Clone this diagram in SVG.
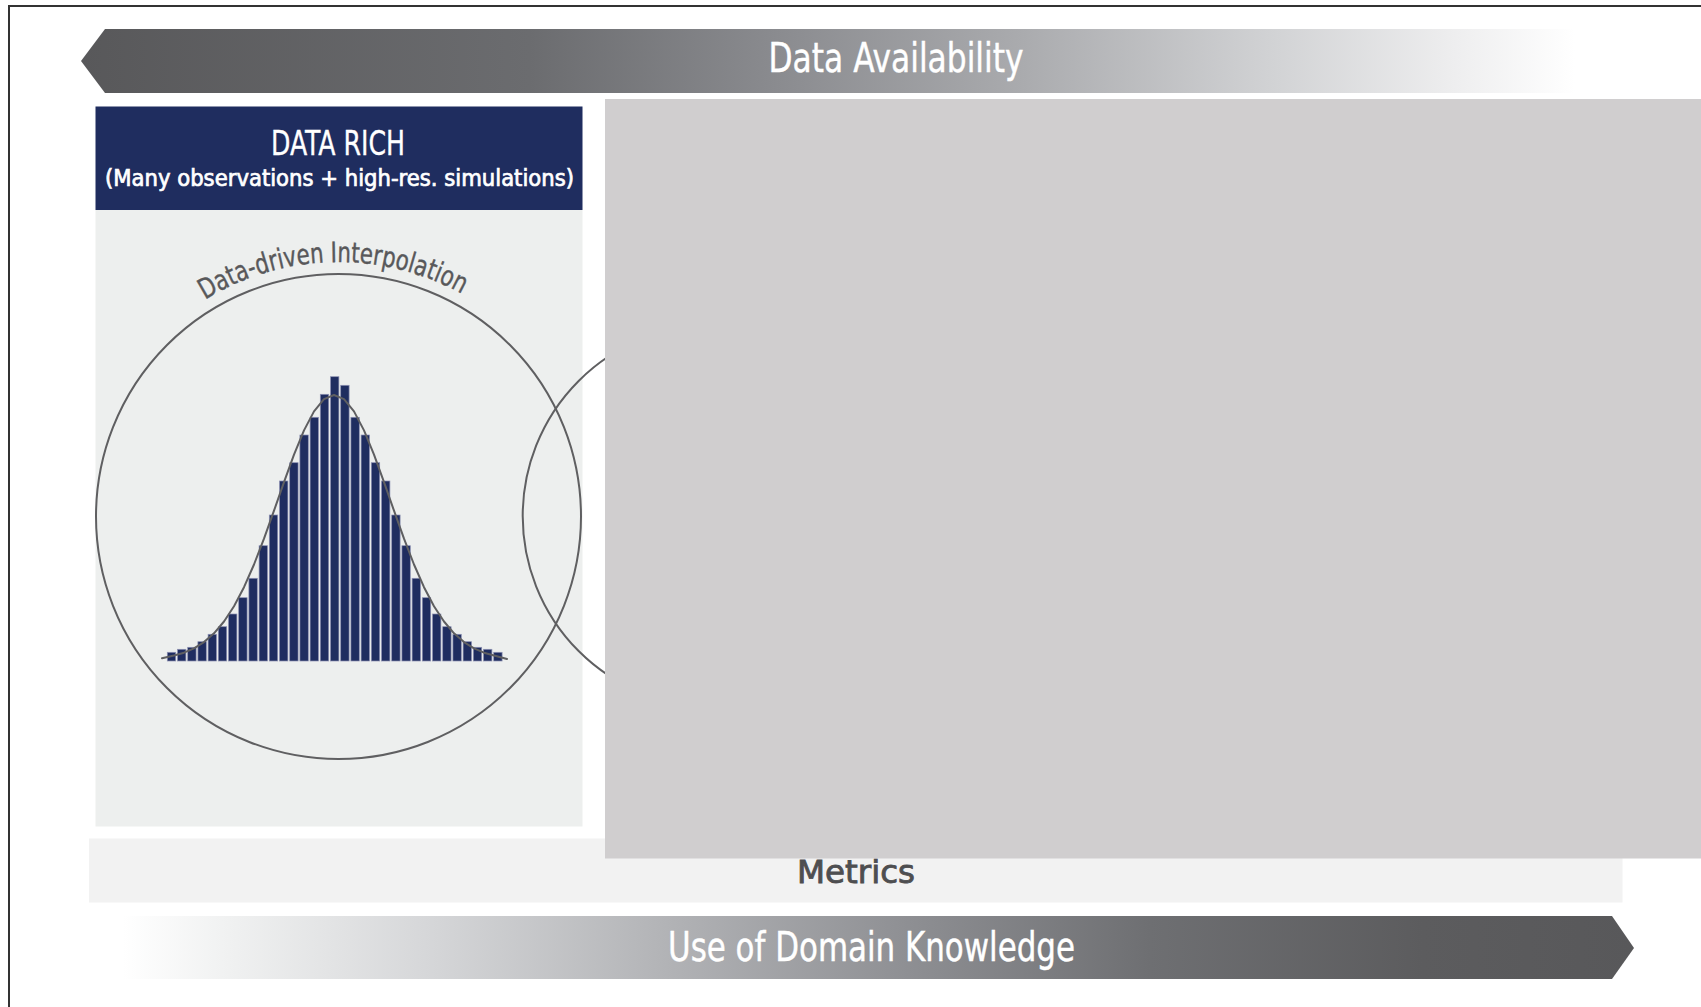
<svg xmlns="http://www.w3.org/2000/svg" width="1701" height="1007" viewBox="0 0 1701 1007">
  <defs>
    <linearGradient id="gTop" gradientUnits="userSpaceOnUse" x1="81" y1="0" x2="1575" y2="0">
      <stop offset="0" stop-color="#58585a"/>
      <stop offset="0.3" stop-color="#6b6c6f"/>
      <stop offset="0.46" stop-color="#898a8e"/>
      <stop offset="0.63" stop-color="#aaabae"/>
      <stop offset="0.8" stop-color="#d2d3d5"/>
      <stop offset="0.92" stop-color="#eeeeef"/>
      <stop offset="1" stop-color="#ffffff"/>
    </linearGradient>
    <linearGradient id="gBot" gradientUnits="userSpaceOnUse" x1="1634" y1="0" x2="123" y2="0">
      <stop offset="0" stop-color="#58585a"/>
      <stop offset="0.14" stop-color="#5c5c5e"/>
      <stop offset="0.32" stop-color="#6e6f72"/>
      <stop offset="0.48" stop-color="#8e8f93"/>
      <stop offset="0.64" stop-color="#b2b3b6"/>
      <stop offset="0.8" stop-color="#d6d7d9"/>
      <stop offset="0.93" stop-color="#f0f1f1"/>
      <stop offset="1" stop-color="#ffffff"/>
    </linearGradient>
    <path id="arcText" d="M117.7,389.5 A255,255 0 0,1 559.3,389.5"/>
    <style>
      .cond { font-family: "DejaVu Sans Condensed", "DejaVu Sans", "Liberation Sans", sans-serif; }
      .band { fill: #ffffff; font-size: 40px; stroke: #ffffff; stroke-width: 0.4; }
      .circ { fill: none; stroke: #5f5f61; stroke-width: 2; }
      .bar { fill: #1f2d60; stroke: #8d91b2; stroke-width: 0.7; }
    </style>
  </defs>

  <rect x="0" y="0" width="1701" height="1007" fill="#ffffff"/>
  <rect id="frame" x="9" y="6" width="1800" height="1100" fill="none" stroke="#333333" stroke-width="2"/>

  <g id="data-availability">
    <polygon points="105,29 1701,29 1701,93 105,93 81,61" fill="url(#gTop)"/>
    <text class="cond band" x="896" y="72" text-anchor="middle" textLength="255" lengthAdjust="spacingAndGlyphs">Data Availability</text>
  </g>

  <g id="data-rich">
    <rect x="95.5" y="210" width="487" height="616.5" fill="#edefee"/>
    <rect x="95.5" y="106.5" width="487" height="103.5" fill="#1f2d5f"/>
    <text class="cond" x="338" y="154.5" font-size="33" fill="#ffffff" stroke="#ffffff" stroke-width="0.3" text-anchor="middle" textLength="134" lengthAdjust="spacingAndGlyphs">DATA RICH</text>
    <text class="cond" x="339.5" y="186" font-size="23" fill="#ffffff" stroke="#ffffff" stroke-width="0.7" text-anchor="middle" textLength="469" lengthAdjust="spacingAndGlyphs">(Many observations + high-res. simulations)</text>
  </g>

  <g id="circles">
    <circle class="circ" cx="338.5" cy="516.5" r="242.5"/>
    <circle class="circ" cx="713.7" cy="516" r="191"/>
  </g>

  <g id="histogram">
    <rect class="bar" x="167.3" y="652.3" width="8.4" height="8.7"/>
    <rect class="bar" x="177.5" y="649.3" width="8.4" height="11.7"/>
    <rect class="bar" x="187.7" y="647.3" width="8.4" height="13.7"/>
    <rect class="bar" x="197.9" y="641.7" width="8.4" height="19.3"/>
    <rect class="bar" x="208.1" y="634.3" width="8.4" height="26.7"/>
    <rect class="bar" x="218.3" y="626.7" width="8.4" height="34.3"/>
    <rect class="bar" x="228.5" y="614" width="8.4" height="47"/>
    <rect class="bar" x="238.7" y="597.7" width="8.4" height="63.3"/>
    <rect class="bar" x="248.9" y="578.3" width="8.4" height="82.7"/>
    <rect class="bar" x="259.1" y="545.7" width="8.4" height="115.3"/>
    <rect class="bar" x="269.3" y="515" width="8.4" height="146"/>
    <rect class="bar" x="279.5" y="481" width="8.4" height="180"/>
    <rect class="bar" x="289.7" y="462.7" width="8.4" height="198.3"/>
    <rect class="bar" x="299.9" y="435" width="8.4" height="226"/>
    <rect class="bar" x="310.1" y="417.3" width="8.4" height="243.7"/>
    <rect class="bar" x="320.3" y="394.3" width="8.4" height="266.7"/>
    <rect class="bar" x="330.5" y="376.7" width="8.4" height="284.3"/>
    <rect class="bar" x="340.7" y="385.3" width="8.4" height="275.7"/>
    <rect class="bar" x="350.9" y="417.3" width="8.4" height="243.7"/>
    <rect class="bar" x="361.1" y="435" width="8.4" height="226"/>
    <rect class="bar" x="371.3" y="462.7" width="8.4" height="198.3"/>
    <rect class="bar" x="381.5" y="481" width="8.4" height="180"/>
    <rect class="bar" x="391.7" y="515" width="8.4" height="146"/>
    <rect class="bar" x="401.9" y="545.7" width="8.4" height="115.3"/>
    <rect class="bar" x="412.1" y="578.3" width="8.4" height="82.7"/>
    <rect class="bar" x="422.3" y="597.7" width="8.4" height="63.3"/>
    <rect class="bar" x="432.5" y="614" width="8.4" height="47"/>
    <rect class="bar" x="442.7" y="626.7" width="8.4" height="34.3"/>
    <rect class="bar" x="452.9" y="634.3" width="8.4" height="26.7"/>
    <rect class="bar" x="463.1" y="641.7" width="8.4" height="19.3"/>
    <rect class="bar" x="473.3" y="647.3" width="8.4" height="13.7"/>
    <rect class="bar" x="483.5" y="649.3" width="8.4" height="11.7"/>
    <rect class="bar" x="493.7" y="652.3" width="8.4" height="8.7"/>
    <polyline fill="none" stroke="#5f5f61" stroke-width="2" stroke-linejoin="round" stroke-linecap="round"
      points="162,658.3 174,655.5 184,652.7 194,648.4 204,642.1 214,633.3 224,621.5 234,606.2 244,587.2 254,564.5 264,538.7 274,510.7 284,482.1 294,454.7 304,430.4 314,411.4 324,399.2 334,395 344,399.2 354,411.4 364,430.4 374,454.7 384,482.1 394,510.7 404,538.7 414,564.5 424,587.2 434,606.2 444,621.5 454,633.3 464,642.1 474,648.4 484,652.7 494,655.5 507,659"/>
  </g>

  <g id="interpolation-label">
    <text class="cond" font-size="28" fill="#58585a" stroke="#58585a" stroke-width="0.4" text-anchor="middle">
      <textPath href="#arcText" startOffset="261" textLength="269" lengthAdjust="spacingAndGlyphs">Data-driven Interpolation</textPath>
    </text>
  </g>

  <g id="metrics">
    <rect x="89" y="838.5" width="1533.5" height="64" fill="#f2f2f2"/>
    <text class="cond" x="856" y="883" font-size="32" fill="#4e4e50" stroke="#4e4e50" stroke-width="0.8" text-anchor="middle" textLength="118" lengthAdjust="spacingAndGlyphs">Metrics</text>
  </g>

  <g id="redacted-area">
    <rect x="605" y="99" width="1096" height="759.5" fill="#d0cecf"/>
  </g>

  <g id="domain-knowledge">
    <polygon points="123,916 1612,916 1634,948 1612,979 123,979" fill="url(#gBot)"/>
    <text class="cond band" x="871.5" y="961" text-anchor="middle" textLength="407" lengthAdjust="spacingAndGlyphs">Use of Domain Knowledge</text>
  </g>

  <g id="connectors"/>
</svg>
